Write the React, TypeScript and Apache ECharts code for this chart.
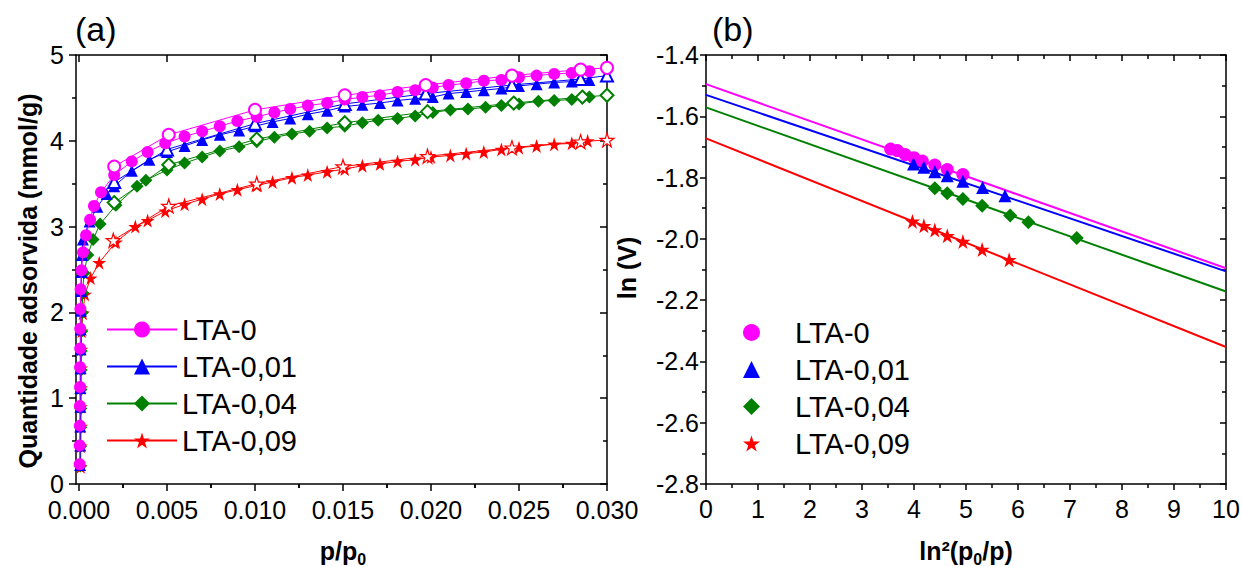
import { useEffect, useRef } from 'react';
import * as echarts from 'echarts';

const FONT = '"Liberation Sans", Arial, Helvetica, sans-serif';

const seriesNames = ['LTA-0', 'LTA-0,01', 'LTA-0,04', 'LTA-0,09'];
const seriesColors = ['#ff00ff', '#0000ff', '#008000', '#ff0000'];

// ---------- Panel (a): isotherms, p/p0 vs quantity adsorbed ----------
const aX0 = [0.00004, 0.00004, 0.00005, 0.00005, 0.00006, 0.00006, 0.00007, 0.00007, 0.00008, 0.00009, 0.00014, 0.00023, 0.0004, 0.00063, 0.00085, 0.00125, 0.002, 0.003, 0.0039, 0.0049, 0.006, 0.007, 0.008, 0.009, 0.0101, 0.0111, 0.012, 0.013, 0.0141, 0.0151, 0.0161, 0.0171, 0.0181, 0.0191, 0.0201, 0.021, 0.022, 0.023, 0.024, 0.025, 0.026, 0.027, 0.028, 0.029];
const aY0 = [0.23, 0.45, 0.68, 0.91, 1.13, 1.36, 1.58, 1.81, 2.04, 2.27, 2.49, 2.7, 2.9, 3.08, 3.24, 3.4, 3.6, 3.76, 3.87, 3.97, 4.05, 4.11, 4.17, 4.23, 4.28, 4.33, 4.37, 4.41, 4.44, 4.48, 4.51, 4.53, 4.57, 4.59, 4.62, 4.65, 4.67, 4.7, 4.71, 4.74, 4.76, 4.78, 4.79, 4.81];
const aX0open = [0.002, 0.0051, 0.01, 0.0151, 0.0197, 0.0246, 0.0285, 0.03];
const aY0open = [3.7, 4.07, 4.36, 4.53, 4.65, 4.76, 4.83, 4.85];

const aX1 = [0.00006, 0.00007, 0.00007, 0.00008, 0.00008, 0.00009, 0.00009, 0.0001, 0.00011, 0.00012, 0.00014, 0.00017, 0.00022, 0.0006, 0.00104, 0.00157, 0.002, 0.003, 0.004, 0.005, 0.006, 0.007, 0.008, 0.0091, 0.01, 0.011, 0.012, 0.013, 0.0141, 0.0151, 0.0161, 0.0171, 0.0181, 0.0191, 0.0201, 0.021, 0.022, 0.023, 0.024, 0.025, 0.026, 0.027, 0.028, 0.029];
const aY1 = [0.22, 0.45, 0.67, 0.9, 1.12, 1.35, 1.57, 1.8, 2.02, 2.25, 2.47, 2.67, 2.85, 3.06, 3.23, 3.38, 3.47, 3.65, 3.78, 3.87, 3.94, 4.01, 4.07, 4.12, 4.17, 4.22, 4.26, 4.31, 4.35, 4.4, 4.42, 4.44, 4.47, 4.49, 4.51, 4.55, 4.57, 4.59, 4.61, 4.64, 4.66, 4.68, 4.69, 4.71];
const aX1open = [0.002, 0.005, 0.01, 0.0151, 0.0197, 0.0246, 0.0285, 0.03];
const aY1open = [3.52, 3.9, 4.2, 4.43, 4.55, 4.65, 4.72, 4.76];

const aX2 = [0.00008, 0.00009, 0.0001, 0.0001, 0.00011, 0.00012, 0.00013, 0.00015, 0.00018, 0.00021, 0.00028, 0.0005, 0.0008, 0.0012, 0.0021, 0.0033, 0.0038, 0.005, 0.006, 0.007, 0.008, 0.0091, 0.0101, 0.0111, 0.0121, 0.0131, 0.0141, 0.0151, 0.0161, 0.017, 0.0181, 0.0191, 0.0201, 0.0211, 0.0221, 0.0231, 0.024, 0.025, 0.0261, 0.027, 0.028, 0.029];
const aY2 = [0.21, 0.44, 0.66, 0.88, 1.1, 1.33, 1.55, 1.78, 2.0, 2.23, 2.46, 2.67, 2.85, 3.03, 3.25, 3.47, 3.54, 3.66, 3.74, 3.81, 3.88, 3.93, 3.99, 4.04, 4.08, 4.11, 4.15, 4.17, 4.21, 4.24, 4.26, 4.29, 4.33, 4.36, 4.37, 4.39, 4.41, 4.43, 4.46, 4.47, 4.48, 4.51];
const aX2open = [0.002, 0.0051, 0.0101, 0.0151, 0.0198, 0.0247, 0.0286, 0.03];
const aY2open = [3.28, 3.72, 4.02, 4.21, 4.34, 4.44, 4.51, 4.53];

const aX3 = [0.0001, 0.0001, 0.00011, 0.00011, 0.00012, 0.00012, 0.00013, 0.00015, 0.00022, 0.00034, 0.00066, 0.00115, 0.0021, 0.0032, 0.0039, 0.0049, 0.006, 0.007, 0.008, 0.009, 0.0101, 0.011, 0.0121, 0.013, 0.0141, 0.0151, 0.0161, 0.0171, 0.0181, 0.0191, 0.02, 0.0211, 0.022, 0.023, 0.024, 0.025, 0.026, 0.027, 0.028, 0.0289];
const aY3 = [0.2, 0.44, 0.67, 0.9, 1.12, 1.35, 1.57, 1.78, 1.99, 2.21, 2.4, 2.58, 2.82, 3.0, 3.07, 3.18, 3.26, 3.32, 3.38, 3.43, 3.48, 3.52, 3.57, 3.6, 3.64, 3.67, 3.71, 3.73, 3.76, 3.78, 3.81, 3.83, 3.85, 3.87, 3.9, 3.92, 3.94, 3.96, 3.97, 4.0];
const aX3open = [0.00195, 0.0051, 0.0101, 0.015, 0.0198, 0.0246, 0.0285, 0.03];
const aY3open = [2.84, 3.24, 3.5, 3.7, 3.82, 3.92, 3.99, 4.01];

const aXMin = -0.00017;
const aXMax = 0.03;
const aXMajor = [0, 0.005, 0.01, 0.015, 0.02, 0.025, 0.03];
const aXMinor = [0.0025, 0.0075, 0.0125, 0.0175, 0.0225, 0.0275];

// ---------- Panel (b): ln(V) vs ln^2(p0/p) ----------
const bX0 = [3.55, 3.68, 3.83, 4.0, 4.16, 4.4, 4.64, 4.94];
const bY0 = [-1.707, -1.712, -1.725, -1.735, -1.746, -1.759, -1.774, -1.79];
const bX1 = [3.99, 4.19, 4.4, 4.64, 4.94, 5.32, 5.75];
const bY1 = [-1.756, -1.766, -1.781, -1.794, -1.812, -1.832, -1.859];
const bX2 = [4.4, 4.64, 4.94, 5.31, 5.85, 6.2, 7.13];
const bY2 = [-1.835, -1.851, -1.87, -1.892, -1.924, -1.946, -1.997];
const bX3 = [3.97, 4.19, 4.4, 4.64, 4.94, 5.31, 5.83];
const bY3 = [-1.943, -1.957, -1.971, -1.99, -2.009, -2.035, -2.068];

const fitX = [0, 10];
const fitY0 = [-1.495, -2.096];
const fitY1 = [-1.53, -2.106];
const fitY2 = [-1.571, -2.172];
const fitY3 = [-1.672, -2.353];

const STAR = 'path://M0,-10L2.245,-3.09L9.511,-3.09L3.633,1.18L5.878,8.09L0,3.82L-5.878,8.09L-3.633,1.18L-9.511,-3.09L-2.245,-3.09Z';

const zip = (xs: number[], ys: number[]) => xs.map((x, i) => [x, ys[i]]);

const aFilled = [zip(aX0, aY0), zip(aX1, aY1), zip(aX2, aY2), zip(aX3, aY3)];
const aOpen = [zip(aX0open, aY0open), zip(aX1open, aY1open), zip(aX2open, aY2open), zip(aX3open, aY3open)];
const bPoints = [zip(bX0, bY0), zip(bX1, bY1), zip(bX2, bY2), zip(bX3, bY3)];
const bFits = [zip(fitX, fitY0), zip(fitX, fitY1), zip(fitX, fitY2), zip(fitX, fitY3)];

const filledSymbols = ['circle', 'triangle', 'diamond', STAR];
const filledSizes = [12, 12, 13, 14];
const openSymbols = ['emptyCircle', 'emptyTriangle', 'emptyDiamond', STAR];

const black = '#000';
const axisLine = { show: true, onZero: false, lineStyle: { color: black, width: 1.5 } };
const labelStyle = { color: black, fontSize: 25, fontFamily: FONT };

function buildOption() {
  const series: any[] = [];
  aFilled.forEach((d, i) => {
    series.push({
      name: seriesNames[i],
      type: 'line',
      xAxisIndex: 0,
      yAxisIndex: 0,
      data: d,
      symbol: filledSymbols[i],
      symbolSize: filledSizes[i],
      showAllSymbol: true,
      z: 10 - i * 2,
      itemStyle: { color: seriesColors[i] },
      lineStyle: { color: seriesColors[i], width: 1 },
    });
  });
  aOpen.forEach((d, i) => {
    const isStar = i === 3;
    series.push({
      name: seriesNames[i] + ' (open)',
      type: 'line',
      xAxisIndex: 0,
      yAxisIndex: 0,
      data: d,
      symbol: openSymbols[i],
      symbolSize: filledSizes[i],
      showAllSymbol: true,
      z: 11 - i * 2,
      itemStyle: isStar
        ? { color: '#ffffff', borderColor: seriesColors[i], borderWidth: 1.2 }
        : { color: seriesColors[i], borderColor: seriesColors[i], borderWidth: 1.2 },
      lineStyle: { color: seriesColors[i], width: 1 },
    });
  });
  bFits.forEach((d, i) => {
    series.push({
      name: seriesNames[i] + ' fit',
      type: 'line',
      xAxisIndex: 4,
      yAxisIndex: 2,
      data: d,
      symbol: 'none',
      z: 3,
      lineStyle: { color: seriesColors[i], width: 2 },
    });
  });
  bPoints.forEach((d, i) => {
    series.push({
      name: seriesNames[i],
      type: 'scatter',
      xAxisIndex: 4,
      yAxisIndex: 2,
      data: d,
      symbol: filledSymbols[i],
      symbolSize: filledSizes[i] + 1,
      z: 5,
      itemStyle: { color: seriesColors[i], opacity: 1 },
    });
  });

  const hidden = { show: false };
  const noSplit = { show: false };
  const tickLine = { color: black, width: 1.5 };

  const xAxis = [
    {
      gridIndex: 0, type: 'value', min: aXMin, max: aXMax, axisLine,
      axisTick: { show: true, customValues: aXMajor, length: 7, lineStyle: tickLine },
      axisLabel: { show: true, customValues: aXMajor, formatter: (v: number) => v.toFixed(3), margin: 13, ...labelStyle },
      splitLine: noSplit,
    },
    {
      gridIndex: 0, type: 'value', position: 'bottom', min: aXMin, max: aXMax, axisLine: { show: false },
      axisTick: { show: true, customValues: aXMinor, length: 4, lineStyle: tickLine },
      axisLabel: hidden, splitLine: noSplit,
    },
    {
      gridIndex: 0, type: 'value', position: 'top', min: aXMin, max: aXMax, axisLine,
      axisTick: { show: true, inside: true, customValues: aXMajor, length: 7, lineStyle: tickLine },
      axisLabel: hidden, splitLine: noSplit,
    },
    {
      gridIndex: 0, type: 'value', position: 'top', min: aXMin, max: aXMax, axisLine: { show: false },
      axisTick: { show: true, inside: true, customValues: aXMinor, length: 4, lineStyle: tickLine },
      axisLabel: hidden, splitLine: noSplit,
    },
    {
      gridIndex: 1, type: 'value', position: 'bottom', min: 0, max: 10, interval: 1, axisLine,
      axisTick: { show: true, length: 6, lineStyle: tickLine },
      minorTick: { show: true, splitNumber: 2, length: 4, lineStyle: tickLine },
      axisLabel: { show: true, margin: 12, ...labelStyle },
      splitLine: noSplit, minorSplitLine: noSplit,
    },
    {
      gridIndex: 1, type: 'value', position: 'top', min: 0, max: 10, interval: 1, axisLine,
      axisTick: { show: true, inside: true, length: 6, lineStyle: tickLine },
      minorTick: { show: true, splitNumber: 2, length: 4, lineStyle: tickLine },
      axisLabel: hidden, splitLine: noSplit, minorSplitLine: noSplit,
    },
  ];

  const yAxis = [
    {
      gridIndex: 0, type: 'value', position: 'left', min: 0, max: 5, interval: 1, axisLine,
      axisTick: { show: true, length: 7, lineStyle: tickLine },
      minorTick: { show: true, splitNumber: 2, length: 4, lineStyle: tickLine },
      axisLabel: { show: true, margin: 12, ...labelStyle },
      splitLine: noSplit, minorSplitLine: noSplit,
    },
    {
      gridIndex: 0, type: 'value', position: 'right', min: 0, max: 5, interval: 1, axisLine,
      axisTick: { show: true, inside: true, length: 7, lineStyle: tickLine },
      minorTick: { show: true, splitNumber: 2, length: 4, lineStyle: tickLine },
      axisLabel: hidden, splitLine: noSplit, minorSplitLine: noSplit,
    },
    {
      gridIndex: 1, type: 'value', position: 'left', min: -2.8, max: -1.4, interval: 0.2, axisLine,
      axisTick: { show: true, length: 6, lineStyle: tickLine },
      minorTick: { show: true, splitNumber: 2, length: 4, lineStyle: tickLine },
      axisLabel: { show: true, margin: 7, formatter: (v: number) => v.toFixed(1), ...labelStyle },
      splitLine: noSplit, minorSplitLine: noSplit,
    },
    {
      gridIndex: 1, type: 'value', position: 'right', min: -2.8, max: -1.4, interval: 0.2, axisLine,
      axisTick: { show: true, inside: true, length: 6, lineStyle: tickLine },
      minorTick: { show: true, splitNumber: 2, length: 4, lineStyle: tickLine },
      axisLabel: hidden, splitLine: noSplit, minorSplitLine: noSplit,
    },
  ];

  const legendText = { fontSize: 29, fontFamily: FONT, color: black, lineHeight: 29 };

  const titleRichBase = { fontSize: 25, fontWeight: 'bold', fontFamily: FONT, fill: black };
  const subRich = { fontSize: 16, fontWeight: 'bold', fontFamily: FONT, fill: black, padding: [17, 0, 0, 0] };

  const graphic = [
    { type: 'text', x: 75, y: 12, style: { text: '(a)', fontSize: 34, fontFamily: FONT, fill: black, align: 'left', verticalAlign: 'top' } },
    { type: 'text', x: 712, y: 12, style: { text: '(b)', fontSize: 34, fontFamily: FONT, fill: black, align: 'left', verticalAlign: 'top' } },
    {
      type: 'text', x: 28, y: 281, rotation: Math.PI / 2,
      style: { text: 'Quantidade adsorvida (mmol/g)', ...titleRichBase, align: 'center', verticalAlign: 'middle' },
    },
    {
      type: 'text', x: 627, y: 268, rotation: Math.PI / 2,
      style: { text: 'ln (V)', ...titleRichBase, align: 'center', verticalAlign: 'middle' },
    },
    {
      type: 'text', x: 343, y: 551,
      style: { text: '{a|p/p}{s|0}', align: 'center', verticalAlign: 'middle', rich: { a: titleRichBase, s: subRich } },
    },
    {
      type: 'text', x: 966, y: 551,
      style: { text: '{a|ln²(p}{s|0}{a|/p)}', align: 'center', verticalAlign: 'middle', rich: { a: titleRichBase, s: subRich } },
    },
  ];

  return {
    animation: false,
    backgroundColor: '#ffffff',
    textStyle: { fontFamily: FONT },
    grid: [
      { left: 76, top: 55, width: 531, height: 429, containLabel: false, outerBoundsMode: 'none' },
      { left: 706, top: 55, width: 520, height: 429, containLabel: false, outerBoundsMode: 'none' },
    ],
    xAxis,
    yAxis,
    legend: [
      {
        data: seriesNames, orient: 'vertical', left: 106, top: 315, padding: 0,
        itemWidth: 70, itemHeight: 20, itemGap: 8, selectedMode: false, textStyle: legendText,
      },
      {
        data: seriesNames.map((n, i) => ({ name: n, icon: filledSymbols[i] })),
        orient: 'vertical', left: 743, top: 318, padding: 0,
        itemWidth: 17, itemHeight: 17, itemGap: 8, selectedMode: false,
        textStyle: { ...legendText, padding: [0, 0, 0, 30] },
      },
    ],
    graphic,
    series,
  };
}

export default function App() {
  const ref = useRef<HTMLDivElement>(null);
  useEffect(() => {
    if (!ref.current) return;
    const chart = echarts.init(ref.current, null, { renderer: 'svg' });
    chart.setOption(buildOption() as any);
    return () => chart.dispose();
  }, []);
  return (
    <div
      ref={ref}
      style={{ position: 'fixed', left: 0, top: 0, width: 1243, height: 567, background: '#fff' }}
    />
  );
}
